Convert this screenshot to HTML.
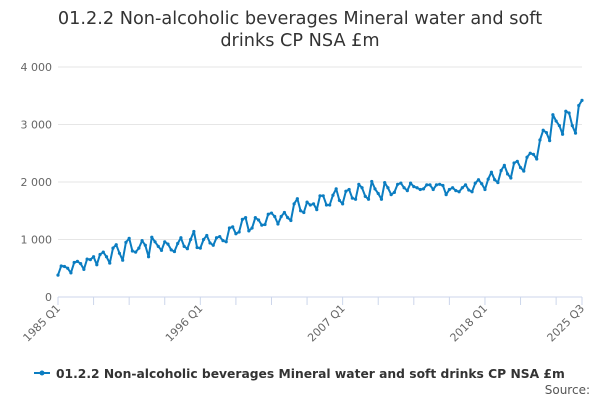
<!DOCTYPE html>
<html><head><meta charset="utf-8"><style>
body{margin:0;background:#fff;font-family:"DejaVu Sans",sans-serif;}
</style></head><body>
<svg width="600" height="400" xmlns="http://www.w3.org/2000/svg" font-family="DejaVu Sans, sans-serif">
<text x="300" y="24" text-anchor="middle" font-size="17.7" fill="#333">01.2.2 Non-alcoholic beverages Mineral water and soft</text>
<text x="300" y="46" text-anchor="middle" font-size="17.7" fill="#333">drinks CP NSA £m</text>
<g id="grid"></g><g id="xaxis"></g><g id="series"></g>
<g>
<line x1="34" y1="373" x2="50" y2="373" stroke="#0b7dc1" stroke-width="2"/>
<circle cx="42" cy="373" r="2.5" fill="#0b7dc1"/>
<text x="56" y="378" font-size="12.3" font-weight="bold" fill="#333">01.2.2 Non-alcoholic beverages Mineral water and soft drinks CP NSA £m</text>
</g>
<text x="590" y="394" text-anchor="end" font-size="12" fill="#555">Source:</text>
</svg>
<script>
const yTicks=[0,1000,2000,3000,4000];
const yTickLabels=["0","1 000","2 000","3 000","4 000"];
const xLabels=["1985 Q1","1996 Q1","2007 Q1","2018 Q1","2025 Q3"];
const xLabelIdx=[0,44,88,132,162];
const values=[
380,540,530,500, 420,600,620,580, 480,660,650,700, 560,740,780,700,
590,850,910,760, 640,950,1020,800, 780,850,980,900, 700,1040,960,880,
810,960,920,820, 790,930,1030,880, 840,1000,1140,860, 850,1000,1070,940,
900,1030,1050,980, 960,1200,1220,1100, 1130,1350,1380,1150, 1200,1380,1340,1250,
1260,1440,1460,1400, 1270,1400,1470,1380, 1330,1620,1710,1500, 1470,1650,1600,1620,
1520,1760,1760,1600, 1600,1770,1880,1680, 1620,1840,1870,1720, 1700,1960,1900,1750,
1700,2010,1880,1800, 1700,1990,1900,1780, 1820,1960,1980,1900, 1850,1980,1920,1900,
1870,1880,1950,1950, 1870,1950,1960,1940, 1780,1870,1900,1850, 1830,1900,1950,1860,
1830,1980,2040,1970, 1870,2050,2170,2040, 1990,2200,2290,2140, 2070,2330,2360,2250,
2190,2430,2500,2480, 2400,2730,2900,2860, 2720,3170,3060,2980, 2830,3230,3200,2980,
2850,3330,3420];
const X0=58,X1=582,Y0=297,Y1=67;
const xs=i=>X0+i*(X1-X0)/(values.length-1);
const ys=v=>Y0-(v/4000)*(Y0-Y1);
const NS="http://www.w3.org/2000/svg";
function mk(t,a,p){const e=document.createElementNS(NS,t);for(const k in a)e.setAttribute(k,a[k]);p.appendChild(e);return e;}
const grid=document.getElementById('grid');
yTicks.forEach((t,i)=>{
  const l=mk('line',{x1:X0,x2:X1,y1:ys(t),y2:ys(t),stroke:i===0?'#ccd6eb':'#e6e6e6','stroke-width':1},grid);
  
  
  const tx=mk('text',{x:52,y:ys(t)+4,'text-anchor':'end','font-size':11,fill:'#666'},grid);
  tx.textContent=yTickLabels[i];
  
  
});
const xa=document.getElementById('xaxis');
for(let i=0;i<values.length;i+=11){
  const t=mk('line',{x1:xs(i),x2:xs(i),y1:Y0,y2:Y0+8,stroke:'#ccd6eb'},xa);
  
  
}
mk('line',{x1:xs(162),x2:xs(162),y1:Y0,y2:Y0+8,stroke:'#ccd6eb'},xa);
xLabels.forEach((s,k)=>{
  const x=xs(xLabelIdx[k]);
  const tx=mk('text',{x:x+3,y:Y0+12,'text-anchor':'end','font-size':11,fill:'#666',transform:`rotate(-45 ${x+3} ${Y0+12})`},xa);
  tx.textContent=s;
  
  
});
const sg=document.getElementById('series');
const pts=values.map((v,i)=>xs(i).toFixed(1)+','+ys(v).toFixed(1)).join(' ');
const pl=mk('polyline',{points:pts,fill:'none',stroke:'#0b7dc1','stroke-width':2,'stroke-linejoin':'round'},sg);


values.forEach((v,i)=>{
  const c=mk('circle',{cx:xs(i),cy:ys(v),r:1.6,fill:'#0b7dc1'},sg);
  
  
});
</script>
</body></html>
